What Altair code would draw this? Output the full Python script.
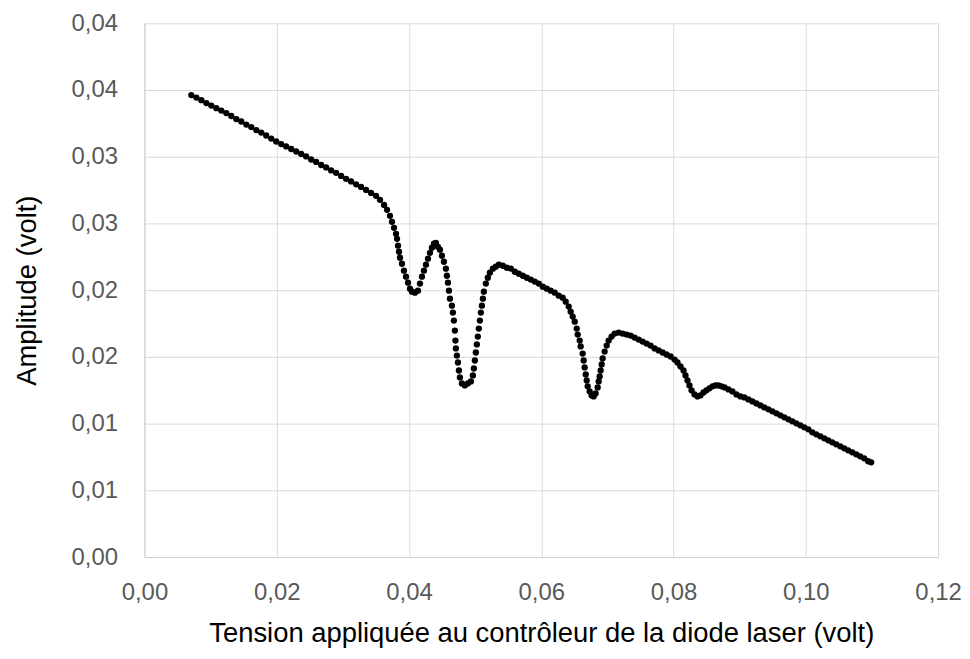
import altair as alt
import pandas as pd

# Segment A: linear decrease (volt)
a_x = [0.00709, 0.00785, 0.00860, 0.00936, 0.01011, 0.01087, 0.01162, 0.01238, 0.01313, 0.01389,
       0.01464, 0.01540, 0.01615, 0.01691, 0.01766, 0.01841, 0.01917, 0.01992, 0.02068, 0.02143,
       0.02219, 0.02294, 0.02370, 0.02445, 0.02521, 0.02596, 0.02672, 0.02747, 0.02823, 0.02898,
       0.02974, 0.03049, 0.03124, 0.03200, 0.03275, 0.03351, 0.03426, 0.03502, 0.03562, 0.03623,
       0.03668, 0.03713, 0.03743, 0.03774, 0.03804]
a_y = [0.03462, 0.03443, 0.03424, 0.03402, 0.03383, 0.03364, 0.03346, 0.03327, 0.03305, 0.03282,
       0.03264, 0.03241, 0.03222, 0.03200, 0.03181, 0.03159, 0.03136, 0.03114, 0.03095, 0.03077,
       0.03058, 0.03039, 0.03021, 0.03002, 0.02979, 0.02961, 0.02938, 0.02920, 0.02897, 0.02879,
       0.02856, 0.02834, 0.02815, 0.02793, 0.02774, 0.02751, 0.02729, 0.02707, 0.02677, 0.02639,
       0.02602, 0.02557, 0.02512, 0.02467, 0.02422]

# Segment B: first two dips
b_x = [0.03819, 0.03834, 0.03849, 0.03864, 0.03894, 0.03924, 0.03955, 0.03985, 0.04015, 0.04045,
       0.04090, 0.04136, 0.04166, 0.04196, 0.04226, 0.04257, 0.04287, 0.04317, 0.04347, 0.04377,
       0.04407, 0.04438, 0.04468, 0.04498, 0.04528, 0.04558, 0.04573, 0.04589, 0.04604, 0.04619,
       0.04649, 0.04664, 0.04679, 0.04694, 0.04702, 0.04709, 0.04724, 0.04740, 0.04755, 0.04770,
       0.04800, 0.04845, 0.04890, 0.04936, 0.04966, 0.04981, 0.04996, 0.05011, 0.05026, 0.05041,
       0.05056, 0.05072, 0.05087, 0.05102, 0.05117, 0.05132, 0.05162, 0.05192, 0.05223, 0.05268,
       0.05313, 0.05358, 0.05419, 0.05479, 0.05540, 0.05600, 0.05660, 0.05721, 0.05781, 0.05841,
       0.05902, 0.05962, 0.06023, 0.06083, 0.06143, 0.06204, 0.06264, 0.06324]
b_y = [0.02385, 0.02333, 0.02288, 0.02243, 0.02198, 0.02146, 0.02101, 0.02056, 0.02011, 0.01989,
       0.01981, 0.01996, 0.02049, 0.02101, 0.02146, 0.02191, 0.02236, 0.02280, 0.02318, 0.02348,
       0.02355, 0.02325, 0.02303, 0.02258, 0.02213, 0.02161, 0.02108, 0.02056, 0.01996, 0.01936,
       0.01884, 0.01832, 0.01772, 0.01697, 0.01622, 0.01563, 0.01510, 0.01458, 0.01398, 0.01346,
       0.01301, 0.01286, 0.01301, 0.01316, 0.01361, 0.01413, 0.01473, 0.01533, 0.01593, 0.01652,
       0.01712, 0.01772, 0.01832, 0.01884, 0.01936, 0.01989, 0.02049, 0.02093, 0.02131, 0.02161,
       0.02176, 0.02191, 0.02183, 0.02168, 0.02161, 0.02138, 0.02123, 0.02108, 0.02093, 0.02079,
       0.02064, 0.02049, 0.02026, 0.02011, 0.01996, 0.01981, 0.01959, 0.01944]

# Segment C: third and fourth dips
c_x = [0.06370, 0.06415, 0.06445, 0.06475, 0.06506, 0.06536, 0.06551, 0.06581, 0.06596, 0.06626,
       0.06641, 0.06656, 0.06672, 0.06687, 0.06702, 0.06732, 0.06762, 0.06792, 0.06822, 0.06853,
       0.06868, 0.06883, 0.06898, 0.06913, 0.06928, 0.06958, 0.06989, 0.07019, 0.07064, 0.07109,
       0.07170, 0.07230, 0.07290, 0.07351, 0.07411, 0.07472, 0.07532, 0.07592, 0.07653, 0.07713,
       0.07773, 0.07834, 0.07894, 0.07955, 0.08015, 0.08060, 0.08105, 0.08151, 0.08181, 0.08211,
       0.08241, 0.08272, 0.08317, 0.08362, 0.08407, 0.08453, 0.08498, 0.08543, 0.08589, 0.08634,
       0.08679, 0.08724, 0.08770]
c_y = [0.01914, 0.01877, 0.01839, 0.01802, 0.01764, 0.01712, 0.01667, 0.01622, 0.01578, 0.01525,
       0.01473, 0.01421, 0.01368, 0.01323, 0.01279, 0.01241, 0.01211, 0.01204, 0.01226, 0.01271,
       0.01316, 0.01353, 0.01398, 0.01443, 0.01488, 0.01540, 0.01585, 0.01622, 0.01652, 0.01675,
       0.01682, 0.01675, 0.01667, 0.01660, 0.01645, 0.01630, 0.01615, 0.01600, 0.01585, 0.01563,
       0.01548, 0.01533, 0.01518, 0.01503, 0.01480, 0.01458, 0.01428, 0.01398, 0.01361, 0.01323,
       0.01286, 0.01249, 0.01219, 0.01204, 0.01211, 0.01234, 0.01249, 0.01264, 0.01279, 0.01286,
       0.01286, 0.01279, 0.01271]

# Segment D: final linear decrease
d_x = [0.08830, 0.08890, 0.08951, 0.09011, 0.09071, 0.09132, 0.09192, 0.09253, 0.09313, 0.09373,
       0.09434, 0.09494, 0.09555, 0.09615, 0.09675, 0.09736, 0.09796, 0.09856, 0.09917, 0.09977,
       0.10038, 0.10098, 0.10158, 0.10219, 0.10279, 0.10339, 0.10400, 0.10460, 0.10521, 0.10581,
       0.10641, 0.10702, 0.10762, 0.10822, 0.10883, 0.10943, 0.10988]
d_y = [0.01256, 0.01241, 0.01219, 0.01204, 0.01196, 0.01181, 0.01166, 0.01151, 0.01136, 0.01121,
       0.01107, 0.01092, 0.01077, 0.01062, 0.01047, 0.01032, 0.01017, 0.01002, 0.00987, 0.00972,
       0.00957, 0.00935, 0.00920, 0.00905, 0.00890, 0.00875, 0.00860, 0.00845, 0.00830, 0.00815,
       0.00800, 0.00785, 0.00770, 0.00755, 0.00740, 0.00718, 0.00710]

x_tick_values = [0.0, 0.02, 0.04, 0.06, 0.08, 0.10, 0.12]
x_tick_labels = ["0,00", "0,02", "0,04", "0,06", "0,08", "0,10", "0,12"]
y_tick_values = [0.0, 0.005, 0.01, 0.015, 0.02, 0.025, 0.03, 0.035, 0.04]
y_tick_labels = ["0,00", "0,01", "0,01", "0,02", "0,02", "0,03", "0,03", "0,04", "0,04"]

xs = a_x + b_x + c_x + d_x
ys = a_y + b_y + c_y + d_y
n = min(len(xs), len(ys))
df = pd.DataFrame({"tension": xs[:n], "amplitude": ys[:n]})


def label_expr(labels, step):
    arr = "[" + ",".join("'" + s + "'" for s in labels) + "]"
    return f"{arr}[round(datum.value / {step})]"


x_axis = alt.Axis(
    values=x_tick_values,
    labelExpr=label_expr(x_tick_labels, 0.02),
    title="Tension appliquée au contrôleur de la diode laser (volt)",
    grid=True, gridColor="#d9d9d9", gridWidth=1,
    domain=True, domainColor="#d0d0d0", domainWidth=1,
    ticks=False, tickSize=0,
    labelFlush=False,
    labelFont="Liberation Sans", labelFontSize=24, labelColor="#595959",
    labelPadding=24,
    titleFont="Liberation Sans", titleFontSize=27.5, titleFontWeight="normal",
    titleColor="#000000", titlePadding=15,
)
y_axis = alt.Axis(
    values=y_tick_values,
    labelExpr=label_expr(y_tick_labels, 0.005),
    title="Amplitude (volt)",
    grid=True, gridColor="#d9d9d9", gridWidth=1,
    domain=True, domainColor="#d0d0d0", domainWidth=1,
    ticks=False, tickSize=0,
    labelFlush=False,
    labelFont="Liberation Sans", labelFontSize=24, labelColor="#595959",
    labelPadding=27,
    titleFont="Liberation Sans", titleFontSize=27.5, titleFontWeight="normal",
    titleColor="#000000", titlePadding=30,
)

chart = alt.Chart(df).mark_circle(color="#000000", opacity=1, size=40).encode(
    x=alt.X("tension:Q", scale=alt.Scale(domain=[0, 0.12], nice=False, zero=True), axis=x_axis),
    y=alt.Y("amplitude:Q", scale=alt.Scale(domain=[0, 0.04], nice=False, zero=True), axis=y_axis),
).properties(
    width=797,
    height=536,
    padding={"left": 5, "top": 2, "right": 0, "bottom": 0},
    background="#ffffff",
).configure_view(stroke=None)

chart.save("out.html", embed_options={"renderer": "svg", "actions": False})
